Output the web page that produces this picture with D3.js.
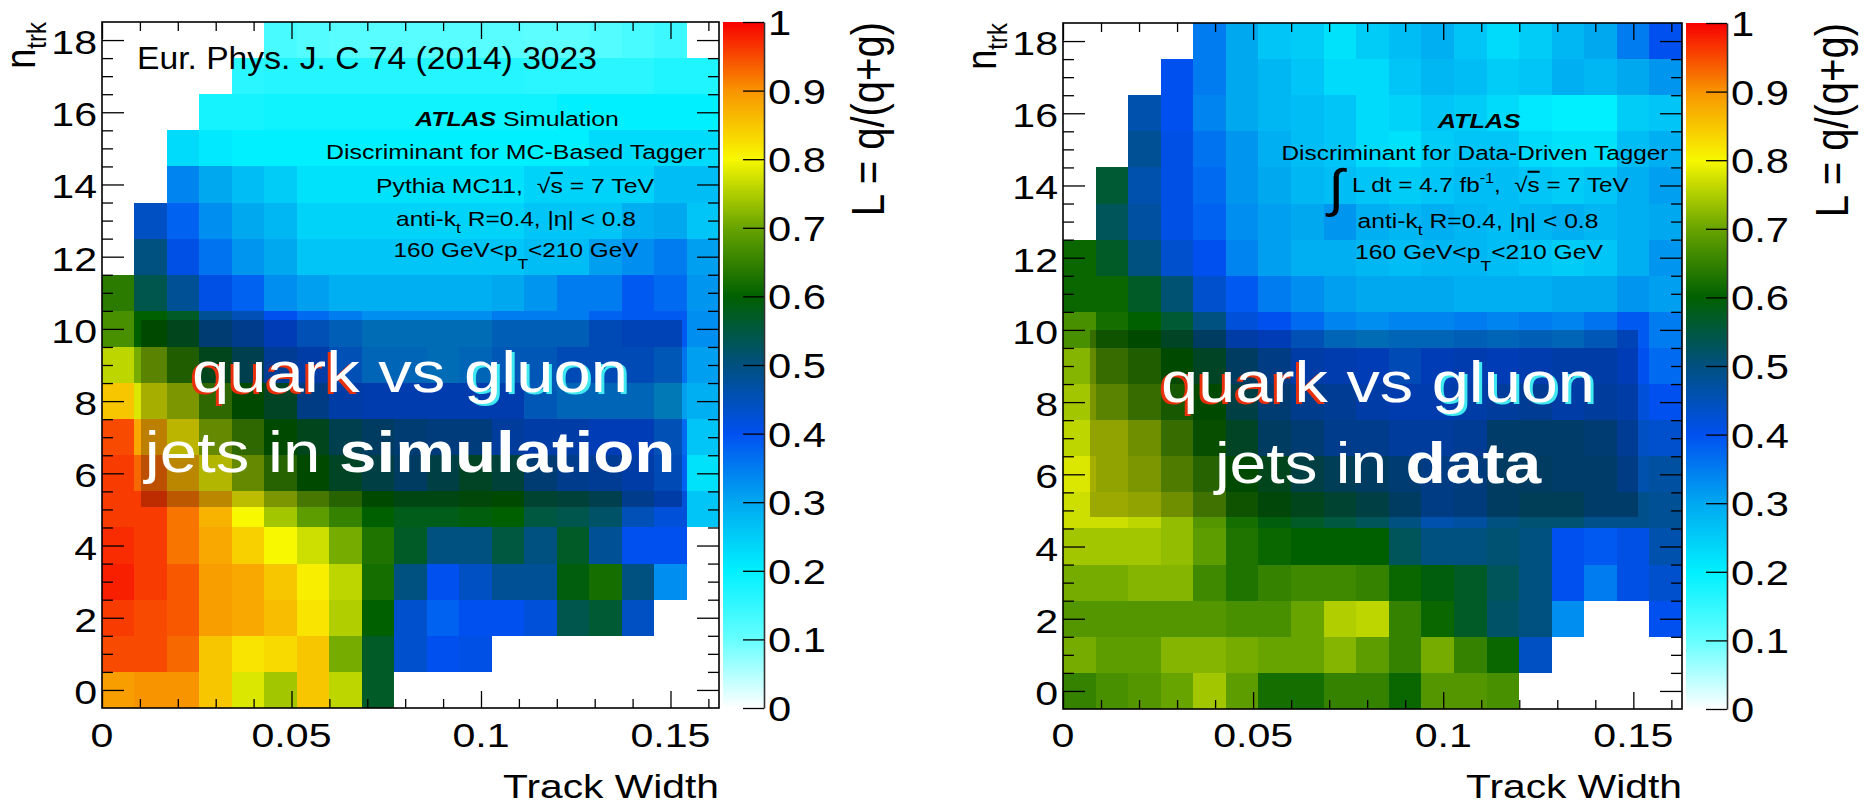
<!DOCTYPE html>
<html>
<head>
<meta charset="utf-8">
<script src="https://cdn.jsdelivr.net/npm/d3@7"></script>
<style>
  body { margin: 0; background: #fff; }
  text { font-family: "Liberation Sans", Arial, Helvetica, sans-serif; fill: #000; }
</style>
</head>
<body>
<div id="chart"></div>
<script>
// Cell values L = q/(q+g), one array per n_trk row (18 at top, 0 at bottom), null = empty bin
var _ = null;
var nTrk = d3.range(18, -1, -1);
var nBins = 19;
var widthMax = 0.1628;

var simRows = [
  [_, _, _, _, _, .13, .12, .115, .115, .115, .115, .115, .115, .11, .11, .12, .13, .14, _],
  [_, _, _, _, .16, .165, .165, .165, .165, .165, .165, .165, .165, .16, .16, .16, .16, .17, .17],
  [_, _, _, .18, .18, .185, .185, .185, .185, .185, .185, .185, .185, .185, .2, .2, .2, .2, .2],
  [_, _, .23, .21, .2, .2, .2, .2, .2, .2, .2, .2, .2, .2, .2, .23, .23, .23, .23],
  [_, _, .34, .3, .27, .25, .22, .22, .22, .22, .22, .22, .22, .24, .24, .24, .24, .27, .27],
  [_, .44, .38, .33, .3, .28, .24, .24, .24, .24, .24, .24, .24, .26, .26, .26, .29, .3, .26],
  [_, .5, .41, .36, .32, .3, .26, .26, .26, .26, .26, .26, .26, .27, .27, .31, .33, .35, .31],
  [.64, .54, .48, .41, .38, .33, .31, .29, .29, .29, .29, .29, .3, .32, .35, .35, .39, .37, .32],
  [.67, .6, .57, .48, .45, .4, .37, .35, .33, .33, .33, .33, .35, .35, .35, .38, .39, .39, .33],
  [.76, .71, .64, .57, .52, .44, .42, .37, .34, .34, .33, .34, .36, .36, .38, .38, .38, .36, .31],
  [.85, .78, .74, .66, .6, .56, .46, .42, .41, .41, .41, .41, .41, .36, .34, .34, .34, .31, .29],
  [.95, .88, .81, .72, .66, .6, .57, .52, .5, .48, .47, .47, .43, .42, .42, .4, .4, .37, .26],
  [.96, .93, .87, .79, .72, .65, .6, .56, .53, .5, .53, .56, .54, .48, .45, .44, .42, .38, .22],
  [.96, .96, .92, .87, .8, .74, .69, .65, .6, .58, .58, .59, .6, .55, .54, .52, .45, .42, .26],
  [.97, .96, .92, .88, .84, .8, .77, .71, .63, .57, .5, .5, .55, .5, .57, .48, .4, .4, _],
  [.98, .96, .94, .89, .88, .85, .81, .76, .62, .5, .4, .44, .48, .48, .59, .62, .5, .33, _],
  [.96, .95, .94, .89, .88, .86, .82, .75, .6, .43, .38, .4, .4, .42, .54, .56, .44, _, _],
  [.95, .95, .93, .85, .82, .83, .85, .71, .57, .43, .4, .41, _, _, _, _, _, _, _],
  [.89, .9, .9, .85, .78, .74, .85, .76, .57, _, _, _, _, _, _, _, _, _, _]
];

var dataRows = [
  [_, _, _, _, .35, .3, .26, .25, .22, .25, .27, .29, .26, .23, .25, .28, .3, .35, .4],
  [_, _, _, .4, .35, .3, .28, .26, .23, .23, .26, .28, .27, .25, .26, .29, .28, .3, .32],
  [_, _, .46, .4, .34, .3, .28, .27, .26, .23, .24, .26, .25, .23, .21, .2, .2, .25, .26],
  [_, _, .48, .41, .36, .32, .29, .27, .26, .23, .22, .25, .26, .26, .23, .22, .22, .27, .29],
  [_, .56, .46, .41, .37, .32, .3, .28, .27, .26, .25, .26, .27, .27, .26, .25, .26, .29, .31],
  [_, .53, .47, .41, .38, .33, .31, .3, .32, .29, .28, .29, .28, .27, .28, .29, .28, .29, .3],
  [.61, .57, .5, .43, .4, .34, .31, .29, .29, .28, .27, .28, .28, .27, .26, .25, .26, .29, .32],
  [.61, .61, .57, .51, .43, .39, .35, .33, .31, .3, .3, .3, .29, .29, .29, .3, .3, .32, .31],
  [.67, .62, .6, .56, .5, .42, .4, .37, .34, .33, .34, .34, .35, .34, .35, .34, .36, .39, .35],
  [.72, .67, .64, .6, .56, .5, .46, .42, .41, .4, .38, .4, .41, .4, .41, .42, .42, .4, .37],
  [.74, .71, .67, .63, .6, .53, .48, .45, .44, .42, .41, .41, .42, .43, .44, .42, .43, .42, .4],
  [.76, .76, .73, .67, .61, .56, .5, .48, .45, .45, .43, .43, .44, .49, .49, .49, .48, .44, .43],
  [.78, .76, .74, .7, .65, .6, .57, .53, .51, .5, .48, .46, .47, .5, .5, .49, .49, .46, .47],
  [.77, .77, .76, .73, .68, .62, .59, .57, .55, .53, .5, .46, .47, .5, .51, .51, .49, .49, .48],
  [.74, .74, .74, .73, .69, .63, .61, .6, .6, .6, .53, .5, .5, .51, .5, .4, .39, .41, .46],
  [.71, .71, .72, .72, .66, .63, .65, .66, .66, .65, .61, .59, .57, .53, .5, .4, .35, .41, .43],
  [.68, .68, .68, .68, .68, .67, .67, .7, .75, .76, .65, .61, .57, .52, .5, .33, _, _, .4],
  [.71, .69, .69, .72, .72, .71, .7, .7, .72, .69, .65, .71, .65, .61, .44, _, _, _, _],
  [.65, .67, .68, .7, .74, .69, .62, .62, .65, .65, .61, .68, .68, .67, _, _, _, _, _]
];

var xTicks = [0, 0.05, 0.1, 0.15];
var xTickLabels = ["0", "0.05", "0.1", "0.15"];
var yTicks = [0, 2, 4, 6, 8, 10, 12, 14, 16, 18];
var zTicks = [0, 0.1, 0.2, 0.3, 0.4, 0.5, 0.6, 0.7, 0.8, 0.9, 1];
var zTickLabels = ["0", "0.1", "0.2", "0.3", "0.4", "0.5", "0.6", "0.7", "0.8", "0.9", "1"];

// ROOT-like rainbow palette
var color = d3.scaleLinear()
  .domain([0, 0.1, 0.2, 0.3, 0.4, 0.5, 0.6, 0.7, 0.8, 0.9, 1])
  .range(["#ffffff", "#66ffff", "#00f0ff", "#00a8f0", "#0050f0", "#005080",
          "#006000", "#68a400", "#f8f800", "#f89400", "#f80000"]);

var svg = d3.select("#chart").append("svg")
  .attr("width", 1867).attr("height", 805)
  .style("background", "#fff");

var grad = svg.append("defs").append("linearGradient")
  .attr("id", "pal").attr("x1", 0).attr("y1", 1).attr("x2", 0).attr("y2", 0);
d3.range(0, 1.0001, 0.02).forEach(function (v) {
  grad.append("stop").attr("offset", v).attr("stop-color", color(v));
});

function addParts(t, parts) {
  parts.forEach(function (p) {
    var s = t.append("tspan").text(p.t);
    if (p.b) s.attr("font-weight", "bold");
    if (p.i) s.attr("font-style", "italic");
    if (p.dy) s.attr("dy", p.dy);
    if (p.fs) s.attr("font-size", p.fs);
    if (p.over) s.style("text-decoration", "overline");
    if (p.fill) s.style("fill", p.fill);
  });
}

function measure(parts, size) {
  var t = svg.append("text").attr("font-size", size);
  addParts(t, parts);
  var w = t.node().getBBox().width;
  t.remove();
  return w;
}

// text squeezed/stretched horizontally by sx around its anchor point
function makeText(parent, x, y, anchor, size, parts, sx, rot) {
  var g = parent.append("g")
    .attr("transform", "translate(" + x + "," + y + ") scale(" + sx + ",1)" + (rot ? " rotate(-90)" : ""));
  var t = g.append("text").attr("text-anchor", anchor).attr("font-size", size);
  addParts(t, parts);
  return t;
}

function fitText(parent, x, y, anchor, size, parts, width) {
  return makeText(parent, x, y, anchor, size, parts, width / measure(parts, size));
}

var sxTick = 80 / measure([{ t: "0.05" }], 34);
var sxBar = 58 / measure([{ t: "0.9" }], 35);

function ticks(g, axis, scale, vals, size, tr) {
  g.append("g").attr("transform", tr)
    .call(axis(scale).tickValues(vals).tickSize(-size).tickFormat(""))
    .call(function (s) { s.select(".domain").remove(); })
    .selectAll("line").attr("stroke-width", 1.3);
}

function panel(rows, P) {
  var x = d3.scaleLinear().domain([0, widthMax]).range([P.x0, P.x1]);
  var y = d3.scaleLinear().domain([-0.5, 18.5]).range([P.y1, P.y0]);
  var bw = widthMax / nBins;
  var g = svg.append("g");

  var cells = [];
  rows.forEach(function (r, ri) {
    r.forEach(function (v, i) {
      if (v !== null) cells.push({ n: nTrk[ri], i: i, v: v });
    });
  });

  g.selectAll("rect.cell").data(cells).enter().append("rect")
    .attr("class", "cell")
    .attr("x", function (d) { return Math.round(x(d.i * bw)); })
    .attr("width", function (d) { return Math.round(x((d.i + 1) * bw)) - Math.round(x(d.i * bw)); })
    .attr("y", function (d) { return Math.round(y(d.n + 0.5)); })
    .attr("height", function (d) { return Math.round(y(d.n - 0.5)) - Math.round(y(d.n + 0.5)); })
    .attr("fill", function (d) { return color(d.v); })
    .attr("shape-rendering", "crispEdges");

  // darkened band behind the big caption
  g.append("rect")
    .attr("x", P.band[0]).attr("y", P.band[1])
    .attr("width", P.band[2] - P.band[0]).attr("height", P.band[3] - P.band[1])
    .attr("fill", "#000").attr("opacity", 0.24);

  // ticks on all four sides
  var xMinor = d3.range(1, 17).map(function (k) { return k / 100; })
    .filter(function (v) { return Math.round(v * 100) % 5 !== 0; });
  var yMinor = d3.range(0, 37).map(function (k) { return k / 2; })
    .filter(function (v) { return v % 2 !== 0; });
  ticks(g, d3.axisBottom, x, xTicks, 17, "translate(0," + P.y1 + ")");
  ticks(g, d3.axisBottom, x, xMinor, 9, "translate(0," + P.y1 + ")");
  ticks(g, d3.axisTop, x, xTicks, 17, "translate(0," + P.y0 + ")");
  ticks(g, d3.axisTop, x, xMinor, 9, "translate(0," + P.y0 + ")");
  ticks(g, d3.axisLeft, y, yTicks, 22, "translate(" + P.x0 + ",0)");
  ticks(g, d3.axisLeft, y, yMinor, 11, "translate(" + P.x0 + ",0)");
  ticks(g, d3.axisRight, y, yTicks, 22, "translate(" + P.x1 + ",0)");
  ticks(g, d3.axisRight, y, yMinor, 11, "translate(" + P.x1 + ",0)");

  g.append("rect")
    .attr("x", P.x0).attr("y", P.y0)
    .attr("width", P.x1 - P.x0).attr("height", P.y1 - P.y0)
    .attr("fill", "none").attr("stroke", "#000").attr("stroke-width", 1.6);

  // tick labels
  xTicks.forEach(function (v, k) {
    makeText(g, x(v), 747, "middle", 34, [{ t: xTickLabels[k] }], sxTick);
  });
  yTicks.forEach(function (v) {
    makeText(g, P.x0 - 5, y(v) + 14, "end", 34, [{ t: String(v) }], sxTick);
  });

  // axis titles
  fitText(g, P.x1, 798, "end", 34, [{ t: "Track Width" }], 216);
  makeText(g, P.x0 - 67, P.y0, "end", 36, [{ t: "n" }, { t: "trk", fs: 24, dy: 9 }], 1.17, true);

  // colour bar
  var z = d3.scaleLinear().domain([0, 1]).range([P.y1, P.y0]);
  g.append("rect")
    .attr("x", P.cb0).attr("y", P.y0)
    .attr("width", P.cb1 - P.cb0).attr("height", P.y1 - P.y0)
    .attr("fill", "url(#pal)");
  g.append("g").attr("transform", "translate(" + P.cb1 + ",0)")
    .call(d3.axisLeft(z).tickValues(zTicks).tickSize(21).tickSizeOuter(0).tickFormat(""))
    .call(function (s) { s.select(".domain").attr("stroke", "#333").attr("stroke-width", 1.6); })
    .selectAll("line").attr("stroke-width", 1.3);
  zTicks.forEach(function (v, k) {
    makeText(g, P.cb1 + 4, z(v) + 13, "start", 35, [{ t: zTickLabels[k] }], sxBar);
  });
  makeText(g, P.zTitleX, P.y0, "end", 40, [{ t: "L = q/(q+g)" }], 1.17, true);

  // annotations, fitted to the widths they have in the figure
  P.notes.forEach(function (n) {
    if (n.w) fitText(g, n.x, n.y, n.anchor || "middle", n.fs || 21, n.parts, n.w);
    else makeText(g, n.x, n.y, n.anchor || "middle", n.fs || 21, n.parts, 1.1);
  });

  // big caption: coloured offset copies under white text
  P.caption.forEach(function (line) {
    var sx = line.w / measure(line.parts, 57);
    line.shadows.forEach(function (sh) {
      var parts = line.parts.map(function (p, k) {
        return { t: p.t, b: p.b, fill: k === sh.k ? sh.c : "none" };
      });
      makeText(g, P.capX + sh.dx, line.y + sh.dy, "middle", 57, parts, sx);
    });
    var parts = line.parts.map(function (p) { return { t: p.t, b: p.b, fill: "#fff" }; });
    makeText(g, P.capX, line.y, "middle", 57, parts, sx);
  });

  return g;
}

var ktLine = [{ t: "anti-k" }, { t: "t", fs: 15, dy: 7 }, { t: " R=0.4, |η| < 0.8", dy: -7 }];
var ptLine = [{ t: "160 GeV<p" }, { t: "T", fs: 15, dy: 12 }, { t: "<210 GeV", dy: -12 }];

panel(simRows, {
  x0: 102, x1: 719, y0: 22, y1: 708, cb0: 723, cb1: 764, zTitleX: 884,
  band: [141, 320, 682, 507],
  capX: 410,
  caption: [
    { y: 392, w: 436, parts: [{ t: "quark" }, { t: " vs " }, { t: "gluon" }],
      shadows: [{ k: 0, dx: -3, dy: 2, c: "#e8300c" }, { k: 2, dx: 3, dy: 2, c: "#40e8f0" }] },
    { y: 472, w: 533, parts: [{ t: "jets in " }, { t: "simulation", b: true }], shadows: [] }
  ],
  notes: [
    { x: 137, y: 69, anchor: "start", fs: 30.8, w: 460, parts: [{ t: "Eur. Phys. J. C 74 (2014) 3023" }] },
    { x: 517, y: 126, w: 205, parts: [{ t: "ATLAS", b: true, i: true }, { t: " Simulation" }] },
    { x: 516, y: 159, w: 380, parts: [{ t: "Discriminant for MC-Based Tagger" }] },
    { x: 515, y: 193, w: 278, parts: [{ t: "Pythia MC11,\u00a0\u00a0√" }, { t: "s", over: true }, { t: " = 7 TeV" }] },
    { x: 516, y: 226, w: 240, parts: ktLine },
    { x: 516, y: 257, w: 245, parts: ptLine }
  ]
});

panel(dataRows, {
  x0: 1063, x1: 1682, y0: 23, y1: 709, cb0: 1686, cb1: 1727, zTitleX: 1848,
  band: [1090, 330, 1638, 517],
  capX: 1378,
  caption: [
    { y: 402, w: 434, parts: [{ t: "quark" }, { t: " vs " }, { t: "gluon" }],
      shadows: [{ k: 0, dx: -3, dy: 2, c: "#e8300c" }, { k: 2, dx: 3, dy: 2, c: "#40e8f0" }] },
    { y: 483, w: 330, parts: [{ t: "jets in " }, { t: "data", b: true }], shadows: [] }
  ],
  notes: [
    { x: 1479, y: 128, w: 84, parts: [{ t: "ATLAS", b: true, i: true }] },
    { x: 1475, y: 160, w: 387, parts: [{ t: "Discriminant for Data-Driven Tagger" }] },
    { x: 1352, y: 192, anchor: "start", w: 277,
      parts: [{ t: "L dt = 4.7 fb" }, { t: "-1", fs: 14, dy: -9 }, { t: ",\u00a0\u00a0√", dy: 9 }, { t: "s", over: true }, { t: " = 7 TeV" }] },
    { x: 1336, y: 206, fs: 52, parts: [{ t: "∫" }] },
    { x: 1478, y: 228, w: 241, parts: ktLine },
    { x: 1479, y: 259, w: 248, parts: ptLine }
  ]
});
</script>
</body>
</html>
